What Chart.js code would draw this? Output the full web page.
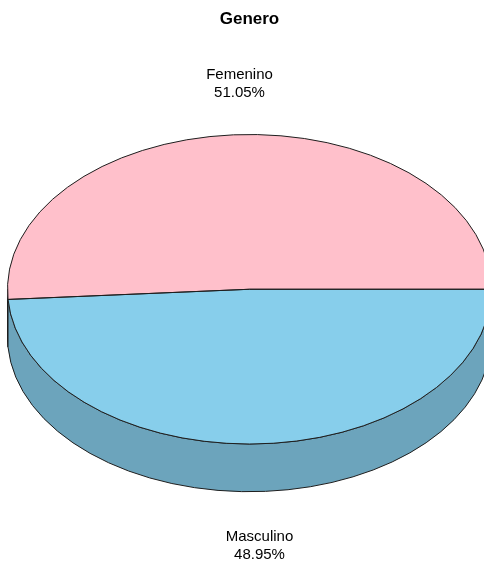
<!DOCTYPE html>
<html>
<head>
<meta charset="utf-8">
<script src="https://cdn.jsdelivr.net/npm/chart.js@4.4.1/dist/chart.umd.min.js"></script>
<style>
html,body{margin:0;padding:0;background:#ffffff;}
#wrap{width:484px;height:564px;position:relative;overflow:hidden;}
</style>
</head>
<body>
<div id="wrap"><canvas id="c" width="484" height="564"></canvas></div>
<script>
const categories = ['Femenino', 'Masculino'];
const percentages = [51.05, 48.95];
const chartTitle = 'Genero';

const TOP_COLORS = ['#FFC0CB', '#87CEEB'];
const SIDE_COLORS = ['#CC9AA2', '#6CA4BC'];
const TILT = 0.6395;
const DEPTH = 47.7;
const EDGE = '#1e1e1e';

const total = percentages.reduce((a, b) => a + b, 0);
const startRotation = 450 - 360 * percentages[0] / total;

function visibleSide(s, e) {
  const out = [];
  for (let k = -2; k <= 3; k++) {
    const lo = 2 * Math.PI * k, hi = lo + Math.PI;
    const a1 = Math.max(s, lo), a2 = Math.min(e, hi);
    if (a2 > a1) out.push([a1, a2]);
  }
  return out;
}

let squashed = false;
const pie3d = {
  id: 'pie3d',
  beforeDatasetsDraw(chart) {
    const ctx = chart.ctx;
    const arcs = chart.getDatasetMeta(0).data;
    if (!arcs.length) return;
    const cx = arcs[0].x, cy = arcs[0].y, rx = arcs[0].outerRadius, ry = rx * TILT;
    ctx.save();
    arcs.forEach((arc, i) => {
      visibleSide(arc.startAngle, arc.endAngle).forEach(([a1, a2]) => {
        ctx.beginPath();
        ctx.ellipse(cx, cy, rx, ry, 0, a1, a2, false);
        ctx.ellipse(cx, cy + DEPTH, rx, ry, 0, a2, a1, true);
        ctx.closePath();
        ctx.fillStyle = SIDE_COLORS[i];
        ctx.fill();
        ctx.lineWidth = 1;
        ctx.strokeStyle = EDGE;
        ctx.stroke();
      });
    });
    ctx.restore();
    ctx.save();
    ctx.translate(cx, cy);
    ctx.scale(1, TILT);
    ctx.translate(-cx, -cy);
    squashed = true;
  },
  afterDatasetsDraw(chart) {
    const ctx = chart.ctx;
    if (squashed) { ctx.restore(); squashed = false; }
    const arcs = chart.getDatasetMeta(0).data;
    if (!arcs.length) return;
    const cx = arcs[0].x, cy = arcs[0].y, rx = arcs[0].outerRadius, ry = rx * TILT;
    ctx.save();
    ctx.lineWidth = 1;
    ctx.strokeStyle = EDGE;
    arcs.forEach((arc) => {
      ctx.beginPath();
      ctx.moveTo(cx, cy);
      ctx.ellipse(cx, cy, rx, ry, 0, arc.startAngle, arc.endAngle, false);
      ctx.closePath();
      ctx.stroke();
    });
    ctx.fillStyle = '#000';
    ctx.textAlign = 'center';
    ctx.textBaseline = 'alphabetic';
    ctx.font = '15px "Liberation Sans", Arial, sans-serif';
    arcs.forEach((arc, i) => {
      const mid = (arc.startAngle + arc.endAngle) / 2;
      const s = Math.sin(mid);
      const lx = cx + Math.cos(mid) * rx * 1.25;
      const ly = cy + s * ry * 1.3 + (s > 0 ? DEPTH + 12 : 0);
      ctx.fillText(categories[i], lx, ly - 9);
      ctx.fillText(percentages[i].toFixed(2) + '%', lx, ly + 9);
    });
    ctx.restore();
  }
};

new Chart(document.getElementById('c'), {
  type: 'pie',
  data: {
    labels: categories,
    datasets: [{
      data: percentages,
      backgroundColor: TOP_COLORS,
      borderWidth: 0,
      rotation: startRotation,
      radius: 242,
      clip: false
    }]
  },
  options: {
    responsive: false,
    animation: false,
    devicePixelRatio: 1,
    rotation: startRotation,
    radius: 242,
    layout: { padding: { left: 15, right: 0, top: 0, bottom: 15.4 } },
    plugins: {
      legend: { display: false },
      tooltip: { enabled: false },
      title: {
        display: true,
        text: chartTitle,
        color: '#000',
        font: { family: '"Liberation Sans", Arial, sans-serif', size: 17, weight: 'bold' },
        padding: { top: 9.5, bottom: 0 }
      }
    }
  },
  plugins: [pie3d]
});
</script>
</body>
</html>
